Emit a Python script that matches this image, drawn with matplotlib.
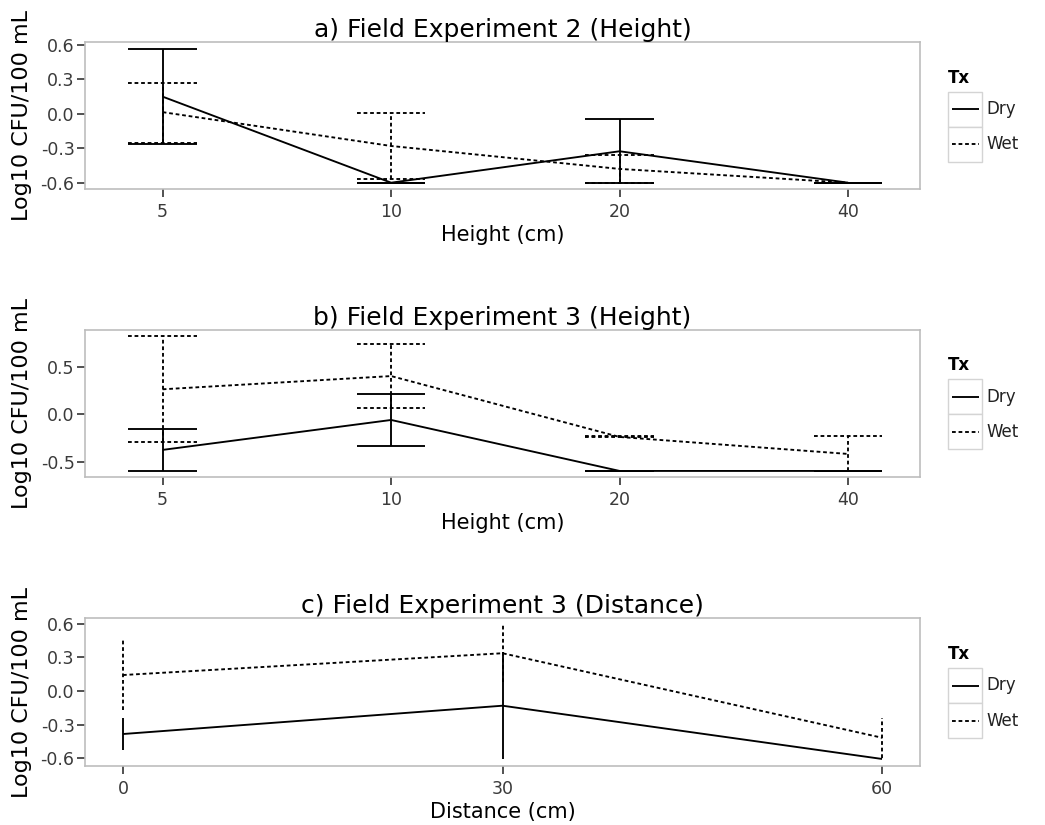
import matplotlib
matplotlib.use("Agg")
import matplotlib.pyplot as plt
from matplotlib.lines import Line2D
from matplotlib.patches import Rectangle

plt.rcParams['font.family'] = ['DejaVu Sans']
plt.rcParams['axes.unicode_minus'] = False

# ---------------- data ----------------
treatments = ['Dry', 'Wet']
height_labels = ['5', '10', '20', '40']
distances = [0, 30, 60]

# a) Field Experiment 2 (Height)
a_dry_mean = [0.150, -0.600, -0.326, -0.600]
a_dry_lo = [-0.262, -0.600, -0.605, -0.600]
a_dry_hi = [0.566, -0.600, -0.045, -0.600]
a_wet_mean = [0.015, -0.280, -0.480, -0.600]
a_wet_lo = [-0.255, -0.570, -0.605, -0.600]
a_wet_hi = [0.270, 0.010, -0.355, -0.600]

# b) Field Experiment 3 (Height)
b_dry_mean = [-0.377, -0.060, -0.600, -0.600]
b_dry_lo = [-0.597, -0.340, -0.600, -0.600]
b_dry_hi = [-0.157, 0.220, -0.600, -0.600]
b_wet_mean = [0.265, 0.405, -0.240, -0.420]
b_wet_lo = [-0.295, 0.070, -0.245, -0.605]
b_wet_hi = [0.825, 0.745, -0.235, -0.235]

# c) Field Experiment 3 (Distance)
c_dry_mean = [-0.383, -0.131, -0.605]
c_dry_lo = [-0.523, -0.605, -0.605]
c_dry_hi = [-0.243, 0.343, -0.605]
c_wet_mean = [0.142, 0.336, -0.416]
c_wet_lo = [-0.168, 0.082, -0.594]
c_wet_hi = [0.452, 0.590, -0.238]

titles = ['a) Field Experiment 2 (Height)',
          'b) Field Experiment 3 (Height)',
          'c) Field Experiment 3 (Distance)']
xlabels = ['Height (cm)', 'Height (cm)', 'Distance (cm)']
ylabel = 'Log10 CFU/100 mL'
legend_title = 'Tx'

# ---------------- layout ----------------
W, H = 1045, 825
fig = plt.figure(figsize=(W / 100, H / 100), dpi=100)


def fx(px):
    return px / W


def fy(py):
    return 1 - py / H


LEFT, RIGHT = 85, 920
panel_tb = [(42.3, 189.0), (330.0, 476.7), (618.3, 765.7)]
LW = 1.35
STY = {'Dry': '-', 'Wet': (0, (2.0, 1.5))}
TICK_COLOR = '#333333'
LABEL_COLOR = '#3a3a3a'
FRAME_COLOR = '#bdbdbd'


def draw_series(ax, x, mean, lo, hi, ls, capw):
    ax.plot(x, mean, color='black', lw=LW, linestyle=ls, solid_capstyle='butt')
    for xi, l, h in zip(x, lo, hi):
        ax.plot([xi, xi], [l, h], color='black', lw=LW, linestyle=ls,
                solid_capstyle='butt')
        if capw > 0:
            for yv in (l, h):
                ax.plot([xi - capw / 2, xi + capw / 2], [yv, yv], color='black',
                        lw=LW, linestyle=ls, solid_capstyle='butt')


def draw_legend(center_y):
    kx0, kx1 = 948, 982
    top = center_y - 24
    kh = 35
    fig.text(fx(kx0), fy(center_y - 38), legend_title, fontsize=12,
             fontweight='bold', ha='left', va='center', color='black')
    for i, t in enumerate(treatments):
        y0 = top + i * kh
        fig.add_artist(Rectangle((fx(kx0), fy(y0 + kh)), fx(kx1) - fx(kx0),
                                 fy(y0) - fy(y0 + kh), transform=fig.transFigure,
                                 facecolor='white', edgecolor='#d4d4d4', lw=1.0))
        yc = y0 + kh / 2
        fig.add_artist(Line2D([fx(kx0 + 3.5), fx(kx1 - 3.5)], [fy(yc), fy(yc)],
                              transform=fig.transFigure, color='black', lw=LW,
                              linestyle=STY[t], solid_capstyle='butt'))
        fig.text(fx(kx1 + 4), fy(yc), t, fontsize=12, ha='left', va='center',
                 color='#222222')


panels_data = [
    (a_dry_mean, a_dry_lo, a_dry_hi, a_wet_mean, a_wet_lo, a_wet_hi),
    (b_dry_mean, b_dry_lo, b_dry_hi, b_wet_mean, b_wet_lo, b_wet_hi),
    (c_dry_mean, c_dry_lo, c_dry_hi, c_wet_mean, c_wet_lo, c_wet_hi),
]
ylims = [(-0.655, 0.624), (-0.661, 0.893), (-0.665, 0.647)]
yticks = [[-0.6, -0.3, 0.0, 0.3, 0.6], [-0.5, 0.0, 0.5], [-0.6, -0.3, 0.0, 0.3, 0.6]]

for k, (t, b) in enumerate(panel_tb):
    ax = fig.add_axes([fx(LEFT), fy(b), fx(RIGHT) - fx(LEFT), fy(t) - fy(b)])
    dm, dl, dh, wm, wl, wh = panels_data[k]
    if k < 2:
        x = list(range(len(height_labels)))
        capw = 0.3
        ax.set_xlim(-0.34, 3.315)
        ax.set_xticks(x)
        ax.set_xticklabels(height_labels)
    else:
        x = distances
        capw = 0
        ax.set_xlim(-3.0, 63.0)
        ax.set_xticks(distances)
        ax.set_xticklabels([str(d) for d in distances])
    draw_series(ax, x, dm, dl, dh, STY['Dry'], capw)
    draw_series(ax, x, wm, wl, wh, STY['Wet'], capw)
    ax.set_ylim(*ylims[k])
    ax.set_yticks(yticks[k])
    ax.set_yticklabels(['%.1f' % v for v in yticks[k]])
    for sp in ax.spines.values():
        sp.set_color(FRAME_COLOR)
        sp.set_linewidth(1.2)
    ax.tick_params(direction='out', length=6, width=1.2, color=TICK_COLOR,
                   labelsize=12.5, labelcolor=LABEL_COLOR)
    ax.tick_params(axis='x', pad=4)
    ax.tick_params(axis='y', pad=1.5)
    ax.set_title(titles[k], fontsize=18, pad=1.5)
    ax.set_xlabel(xlabels[k], fontsize=15, labelpad=3)
    ax.set_ylabel(ylabel, fontsize=16, labelpad=6)
    draw_legend((t + b) / 2)

fig.savefig('out.png', dpi=100)
